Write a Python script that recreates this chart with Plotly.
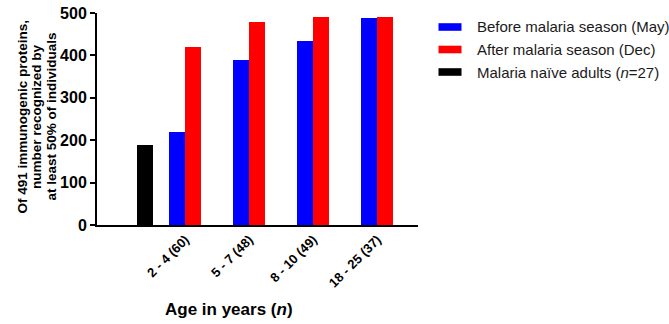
import plotly.graph_objects as go

# Age groups (with sample size) and number of the 491 immunogenic proteins
# recognized by at least 50% of individuals
age_groups = ["2 - 4 (60)", "5 - 7 (48)", "8 - 10 (49)", "18 - 25 (37)"]
before_may = [220, 388, 435, 488]
after_dec = [421, 479, 491, 490]
naive_adults = [188]

series_names = [
    "Before malaria season (May)",
    "After malaria season (Dec)",
    "Malaria naïve adults (<i>n</i>=27)",
]
series_colors = ["#0000ff", "#ff0000", "#000000"]

y_title_lines = [
    "Of 491 immunogenic proteins,",
    "number recognized by",
    "at least 50% of individuals",
]
x_title = "Age in years (<i>n</i>)"

FONT = "Liberation Sans, Arial, sans-serif"
W, H = 669, 324
ML, MR, MT, MB = 97, 251, 13, 99
PW, PH = W - ML - MR, H - MT - MB


def px_x(px):
    """Pixel column -> paper x."""
    return (px - ML) / PW


def px_y(py):
    """Pixel row -> paper y."""
    return (H - MB - py) / PH


BAR_W = 0.25
group_pos = list(range(len(age_groups)))
naive_pos = [-0.625]

fig = go.Figure()
fig.add_trace(go.Bar(
    x=group_pos, y=before_may, name=series_names[0],
    width=BAR_W, offset=-BAR_W,
    marker=dict(color=series_colors[0], line=dict(width=0)),
))
fig.add_trace(go.Bar(
    x=group_pos, y=after_dec, name=series_names[1],
    width=BAR_W, offset=0,
    marker=dict(color=series_colors[1], line=dict(width=0)),
))
fig.add_trace(go.Bar(
    x=naive_pos, y=naive_adults, name=series_names[2],
    width=BAR_W,
    marker=dict(color=series_colors[2], line=dict(width=0)),
))

# Legend drawn as wide swatches with labels to the right of the plot
shapes = []
annotations = []
for i, (name, color) in enumerate(zip(series_names, series_colors)):
    cy = 27 + i * 22.5
    shapes.append(dict(
        type="rect", xref="paper", yref="paper",
        x0=px_x(438.5), x1=px_x(461.5),
        y0=px_y(cy + 3.8), y1=px_y(cy - 3.8),
        fillcolor=color, line=dict(width=0),
    ))
    annotations.append(dict(
        xref="paper", yref="paper", x=px_x(475), y=px_y(cy),
        xanchor="left", yanchor="middle", showarrow=False,
        text=name, font=dict(size=15, family=FONT, color="#1a1a1a"),
    ))

# Three-line rotated y-axis title
for i, line in enumerate(y_title_lines):
    annotations.append(dict(
        xref="paper", yref="paper", x=px_x(21.5 + i * 14.5), y=px_y(117),
        xanchor="center", yanchor="middle", textangle=-90, showarrow=False,
        text=f"<b>{line}</b>", font=dict(size=13.5, family=FONT, color="black"),
    ))

# x-axis title
annotations.append(dict(
    xref="paper", yref="paper", x=px_x(229), y=px_y(309),
    xanchor="center", yanchor="middle", showarrow=False,
    text=f"<b>{x_title}</b>", font=dict(size=17, family=FONT, color="black"),
))

fig.update_layout(
    width=W, height=H,
    margin=dict(l=ML, r=MR, t=MT, b=MB, autoexpand=False),
    paper_bgcolor="white", plot_bgcolor="white",
    font=dict(family=FONT, color="black"),
    showlegend=False,
    bargap=0,
    shapes=shapes,
    annotations=annotations,
)

fig.update_xaxes(
    range=[-1.38, 3.636],
    tickvals=group_pos, ticktext=age_groups,
    tickangle=-45, ticks="",
    tickfont=dict(size=13, family=FONT, color="black", weight="bold"),
    showline=True, linecolor="black", linewidth=2,
    showgrid=False, zeroline=False,
)
fig.update_yaxes(
    range=[0, 500], tickvals=[0, 100, 200, 300, 400, 500],
    ticks="outside", ticklen=5, tickwidth=2, tickcolor="black",
    tickfont=dict(size=16, family=FONT, color="black", weight="bold"),
    showline=True, linecolor="black", linewidth=2,
    showgrid=False, zeroline=False,
)

fig.write_html("out.html")
